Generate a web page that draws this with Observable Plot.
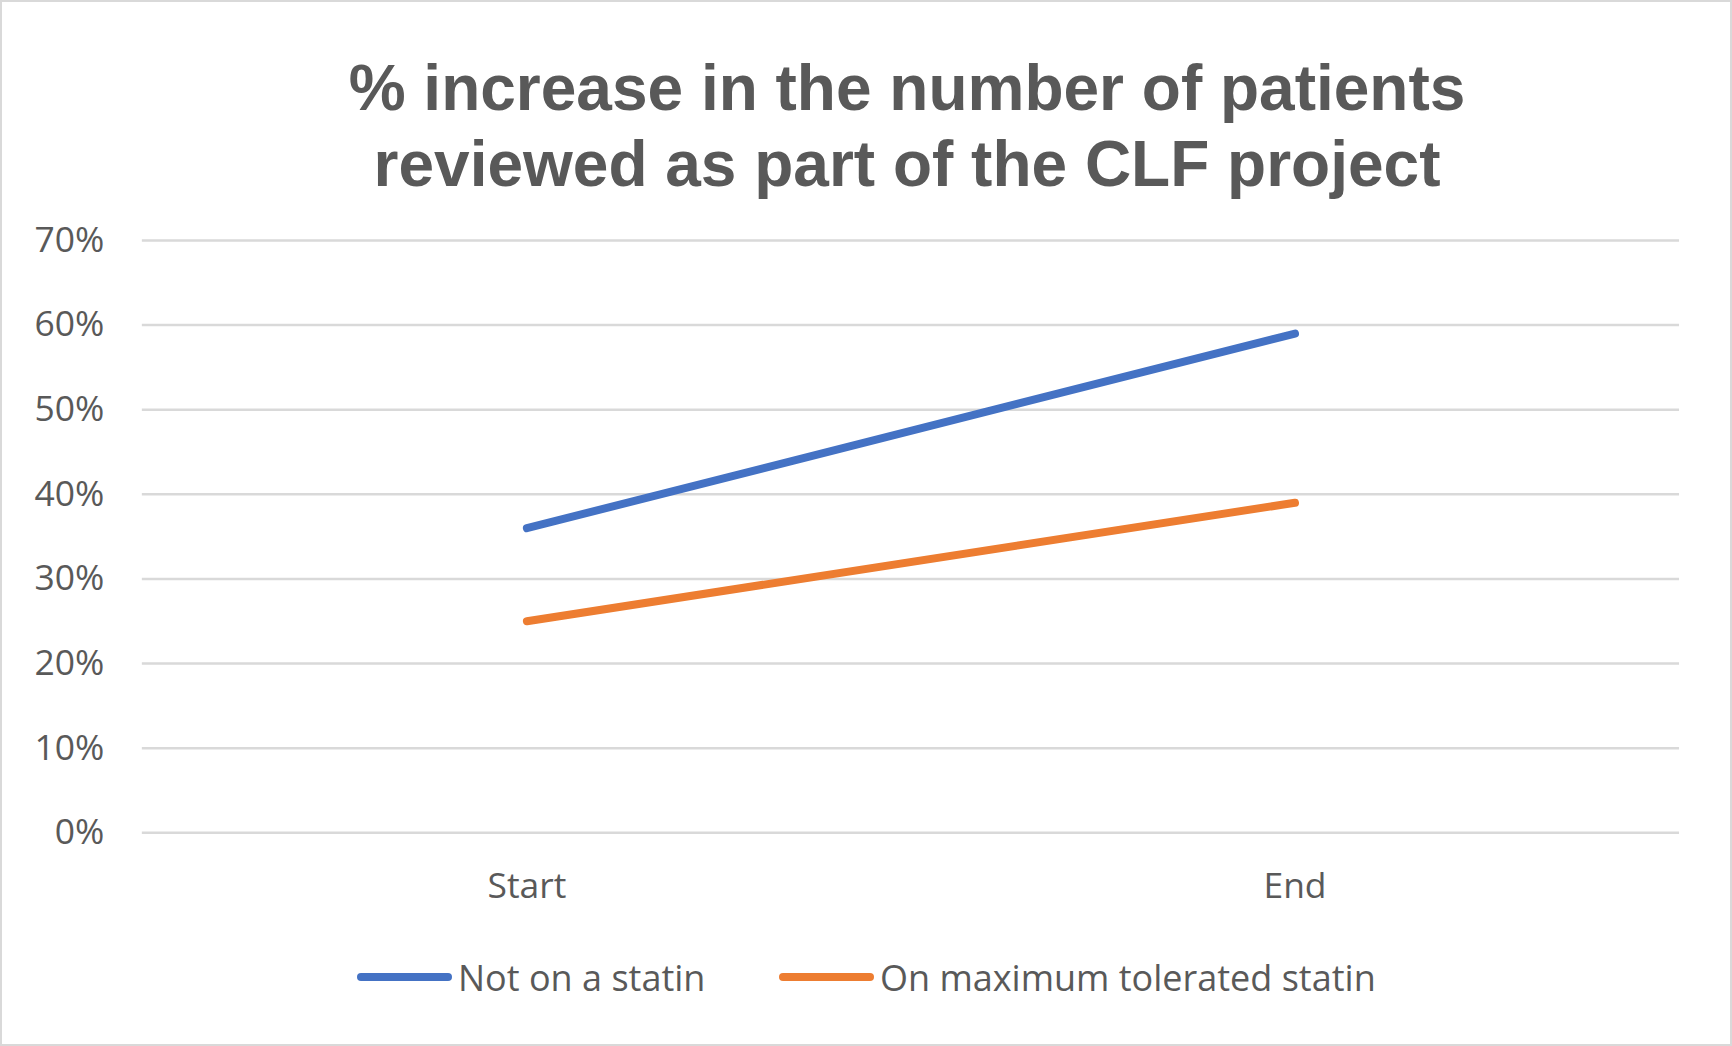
<!DOCTYPE html>
<html>
<head>
<meta charset="utf-8">
<script src="https://cdn.jsdelivr.net/npm/d3@7"></script>
<script src="https://cdn.jsdelivr.net/npm/@observablehq/plot@0.6"></script>
<style>
  html, body { margin: 0; padding: 0; background: #fff; }
  #frame { position: relative; width: 1732px; height: 1046px; box-sizing: border-box; border: 2px solid #d9d9d9; background: #fff; overflow: hidden; }
  #title { position: absolute; left: 0; top: 48px; width: 1810px; text-align: center; font-family: "Liberation Sans", Arial, sans-serif; font-weight: bold; font-size: 64px; line-height: 76px; color: #595959; }
  #chart { position: absolute; left: -2px; top: 198px; }
  #legend { position: absolute; top: 950px; left: 0; width: 1732px; height: 50px; font-family: "Open Sans", sans-serif; font-size: 36px; color: #595959; }
  .item { position: absolute; top: 0; display: flex; align-items: center; height: 50px; }
  .swatch { width: 95px; height: 8px; border-radius: 4px; margin-right: 6px; }
</style>
</head>
<body>
<div id="frame">
  <div id="title"></div>
  <div id="chart"></div>
  <div id="legend"></div>
</div>
<script>
const titleLines = ["% increase in the number of patients", "reviewed as part of the CLF project"];
const categories = ["Start", "End"];
const seriesNames = ["Not on a statin", "On maximum tolerated statin"];
const notOnStatin = [0.36, 0.59];
const onMaxStatin = [0.25, 0.39];
const colors = ["#4472C4", "#ED7D31"];
const yTicks = [0, 0.1, 0.2, 0.3, 0.4, 0.5, 0.6, 0.7];

document.getElementById("title").innerHTML = titleLines.join("<br>");

const seriesValues = [notOnStatin, onMaxStatin];
const data = [];
seriesNames.forEach((s, i) => categories.forEach((c, j) => data.push({series: s, cat: c, value: seriesValues[i][j]})));

const chart = Plot.plot({
  width: 1732,
  height: 720,
  marginTop: 40,
  marginBottom: 87,
  marginLeft: 142,
  marginRight: 51,
  style: {fontFamily: "'Open Sans', sans-serif", fontSize: "35.5px", color: "#595959", background: "transparent", overflow: "visible"},
  x: {type: "point", domain: categories, padding: 0.5, label: null},
  y: {domain: [0, 0.7], label: null},
  color: {domain: seriesNames, range: colors},
  marks: [
    Plot.gridY(yTicks, {stroke: "#d9d9d9", strokeOpacity: 1, strokeWidth: 2.5}),
    Plot.axisY(yTicks, {tickSize: 0, tickPadding: 38, tickFormat: d => Math.round(d * 100) + "%", label: null, fill: "#595959"}),
    Plot.axisX({tickSize: 0, tickPadding: 40, label: null, fill: "#595959"}),
    Plot.line(data, {x: "cat", y: "value", z: "series", stroke: "series", strokeWidth: 8, strokeLinecap: "round"})
  ]
});
document.getElementById("chart").appendChild(chart);

const legend = document.getElementById("legend");
const legendLefts = [355, 777];
seriesNames.forEach((s, i) => {
  const item = document.createElement("div");
  item.className = "item";
  item.style.left = legendLefts[i] + "px";
  item.innerHTML = `<div class="swatch" style="background:${colors[i]}"></div><span>${s}</span>`;
  legend.appendChild(item);
});
</script>
</body>
</html>
